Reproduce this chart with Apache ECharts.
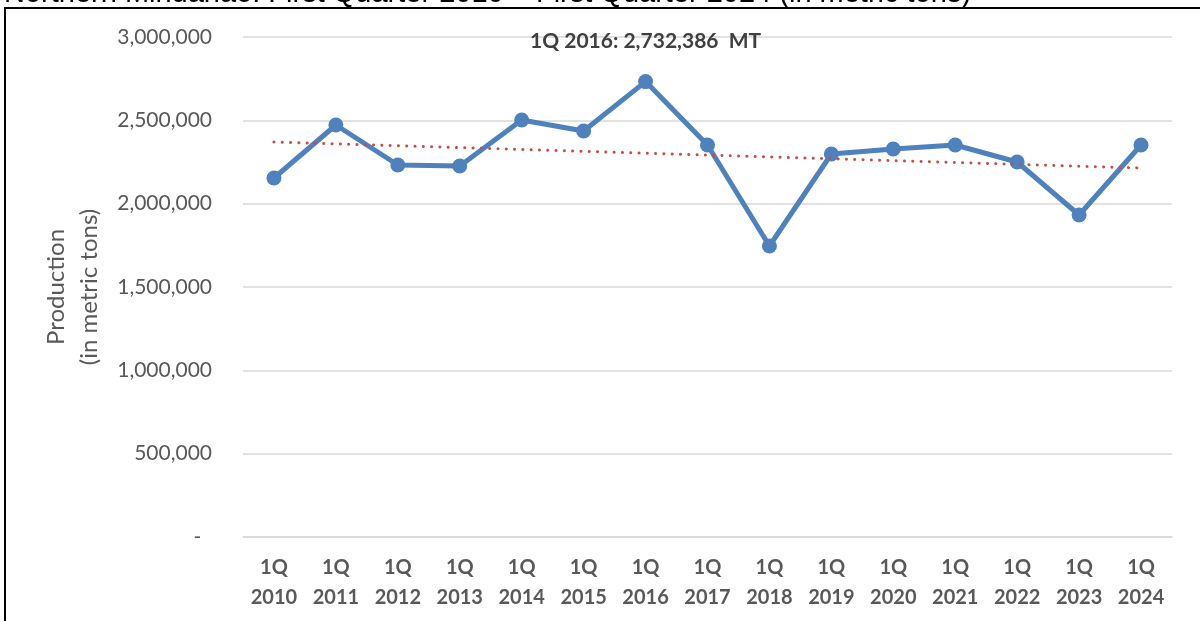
<!DOCTYPE html>
<html>
<head>
<meta charset="utf-8">
<script src="https://cdn.jsdelivr.net/npm/echarts@6/dist/echarts.min.js"></script>
<style>
  html, body { margin: 0; padding: 0; background: #fff; }
  #chart { width: 1200px; height: 621px; }
</style>
</head>
<body>
<div id="chart"></div>
<script>
// data
var categories = ["1Q\n2010", "1Q\n2011", "1Q\n2012", "1Q\n2013", "1Q\n2014", "1Q\n2015", "1Q\n2016",
    "1Q\n2017", "1Q\n2018", "1Q\n2019", "1Q\n2020", "1Q\n2021", "1Q\n2022", "1Q\n2023", "1Q\n2024"];
var production = [2154000, 2472000, 2232000, 2226000, 2502000, 2436000, 2732386,
    2352000, 1746000, 2298000, 2328000, 2352000, 2250000, 1932000, 2352000];
// linear trend, end points
var trendEnds = [2370000, 2214000];
var peakIndex = 6;
var titleText = "Northern Mindanao: First Quarter 2010 \u2013 First Quarter 2024 (in metric tons)";

var labelFont = "Lato, Carlito, 'Open Sans', sans-serif";

var trend = categories.map(function (c, i) {
    if (i === 0) return trendEnds[0];
    if (i === categories.length - 1) return trendEnds[1];
    return null;
});

var lineData = production.map(function (v, i) {
    if (i !== peakIndex) return v;
    return {
        value: v,
        label: {
            show: true,
            position: "top",
            distance: 22,
            fontFamily: labelFont,
            fontWeight: "bold",
            fontSize: 21,
            color: "#404040",
            formatter: function (p) {
                return "1Q 2016: " + p.value.toLocaleString("en-US") + "  MT";
            }
        }
    };
});

var myChart = echarts.init(document.getElementById("chart"));
var option = {
    animation: false,
    backgroundColor: "#fff",
    grid: {
        left: 243,
        right: 28,
        top: 37,
        bottom: 84
    },
    graphic: [
        {
            type: "text",
            left: 4,
            top: -21,
            style: {
                text: titleText,
                fontFamily: "'Liberation Sans', Arial, sans-serif",
                fontSize: 29,
                fill: "#000"
            },
            silent: true
        },
        {
            type: "rect",
            shape: { x: 5, y: 8, width: 1300, height: 700 },
            style: { fill: "#fff", stroke: "#000", lineWidth: 2 },
            silent: true,
            z: -10
        }
    ],
    xAxis: {
        type: "category",
        data: categories,
        boundaryGap: true,
        axisLine: { show: true, lineStyle: { color: "#D9D9D9", width: 1.5 } },
        axisTick: { show: false },
        axisLabel: {
            interval: 0,
            margin: 16,
            fontFamily: labelFont,
            fontWeight: "bold",
            fontSize: 20,
            lineHeight: 30,
            color: "#595959"
        }
    },
    yAxis: {
        type: "value",
        min: 0,
        max: 3000000,
        interval: 500000,
        name: "Production\n(in metric tons)",
        nameLocation: "middle",
        nameGap: 137,
        nameTextStyle: {
            fontFamily: labelFont,
            fontSize: 24,
            lineHeight: 33,
            color: "#595959"
        },
        axisLine: { show: false },
        axisTick: { show: false },
        splitLine: { lineStyle: { color: "#D9D9D9", width: 1.5 } },
        axisLabel: {
            margin: 31,
            fontFamily: labelFont,
            fontSize: 21,
            color: "#595959",
            formatter: function (v) {
                return v === 0 ? "-  " : v.toLocaleString("en-US");
            }
        }
    },
    series: [
        {
            name: "Trend",
            type: "line",
            data: trend,
            connectNulls: true,
            symbol: "none",
            lineStyle: { color: "#C0504D", width: 3, type: [0.1, 8.2], cap: "round" },
            z: 3
        },
        {
            name: "Production",
            type: "line",
            data: lineData,
            symbol: "circle",
            symbolSize: 15,
            lineStyle: { color: "#4F81BD", width: 5 },
            itemStyle: { color: "#4F81BD" },
            z: 2
        }
    ]
};
myChart.setOption(option);
</script>
</body>
</html>
